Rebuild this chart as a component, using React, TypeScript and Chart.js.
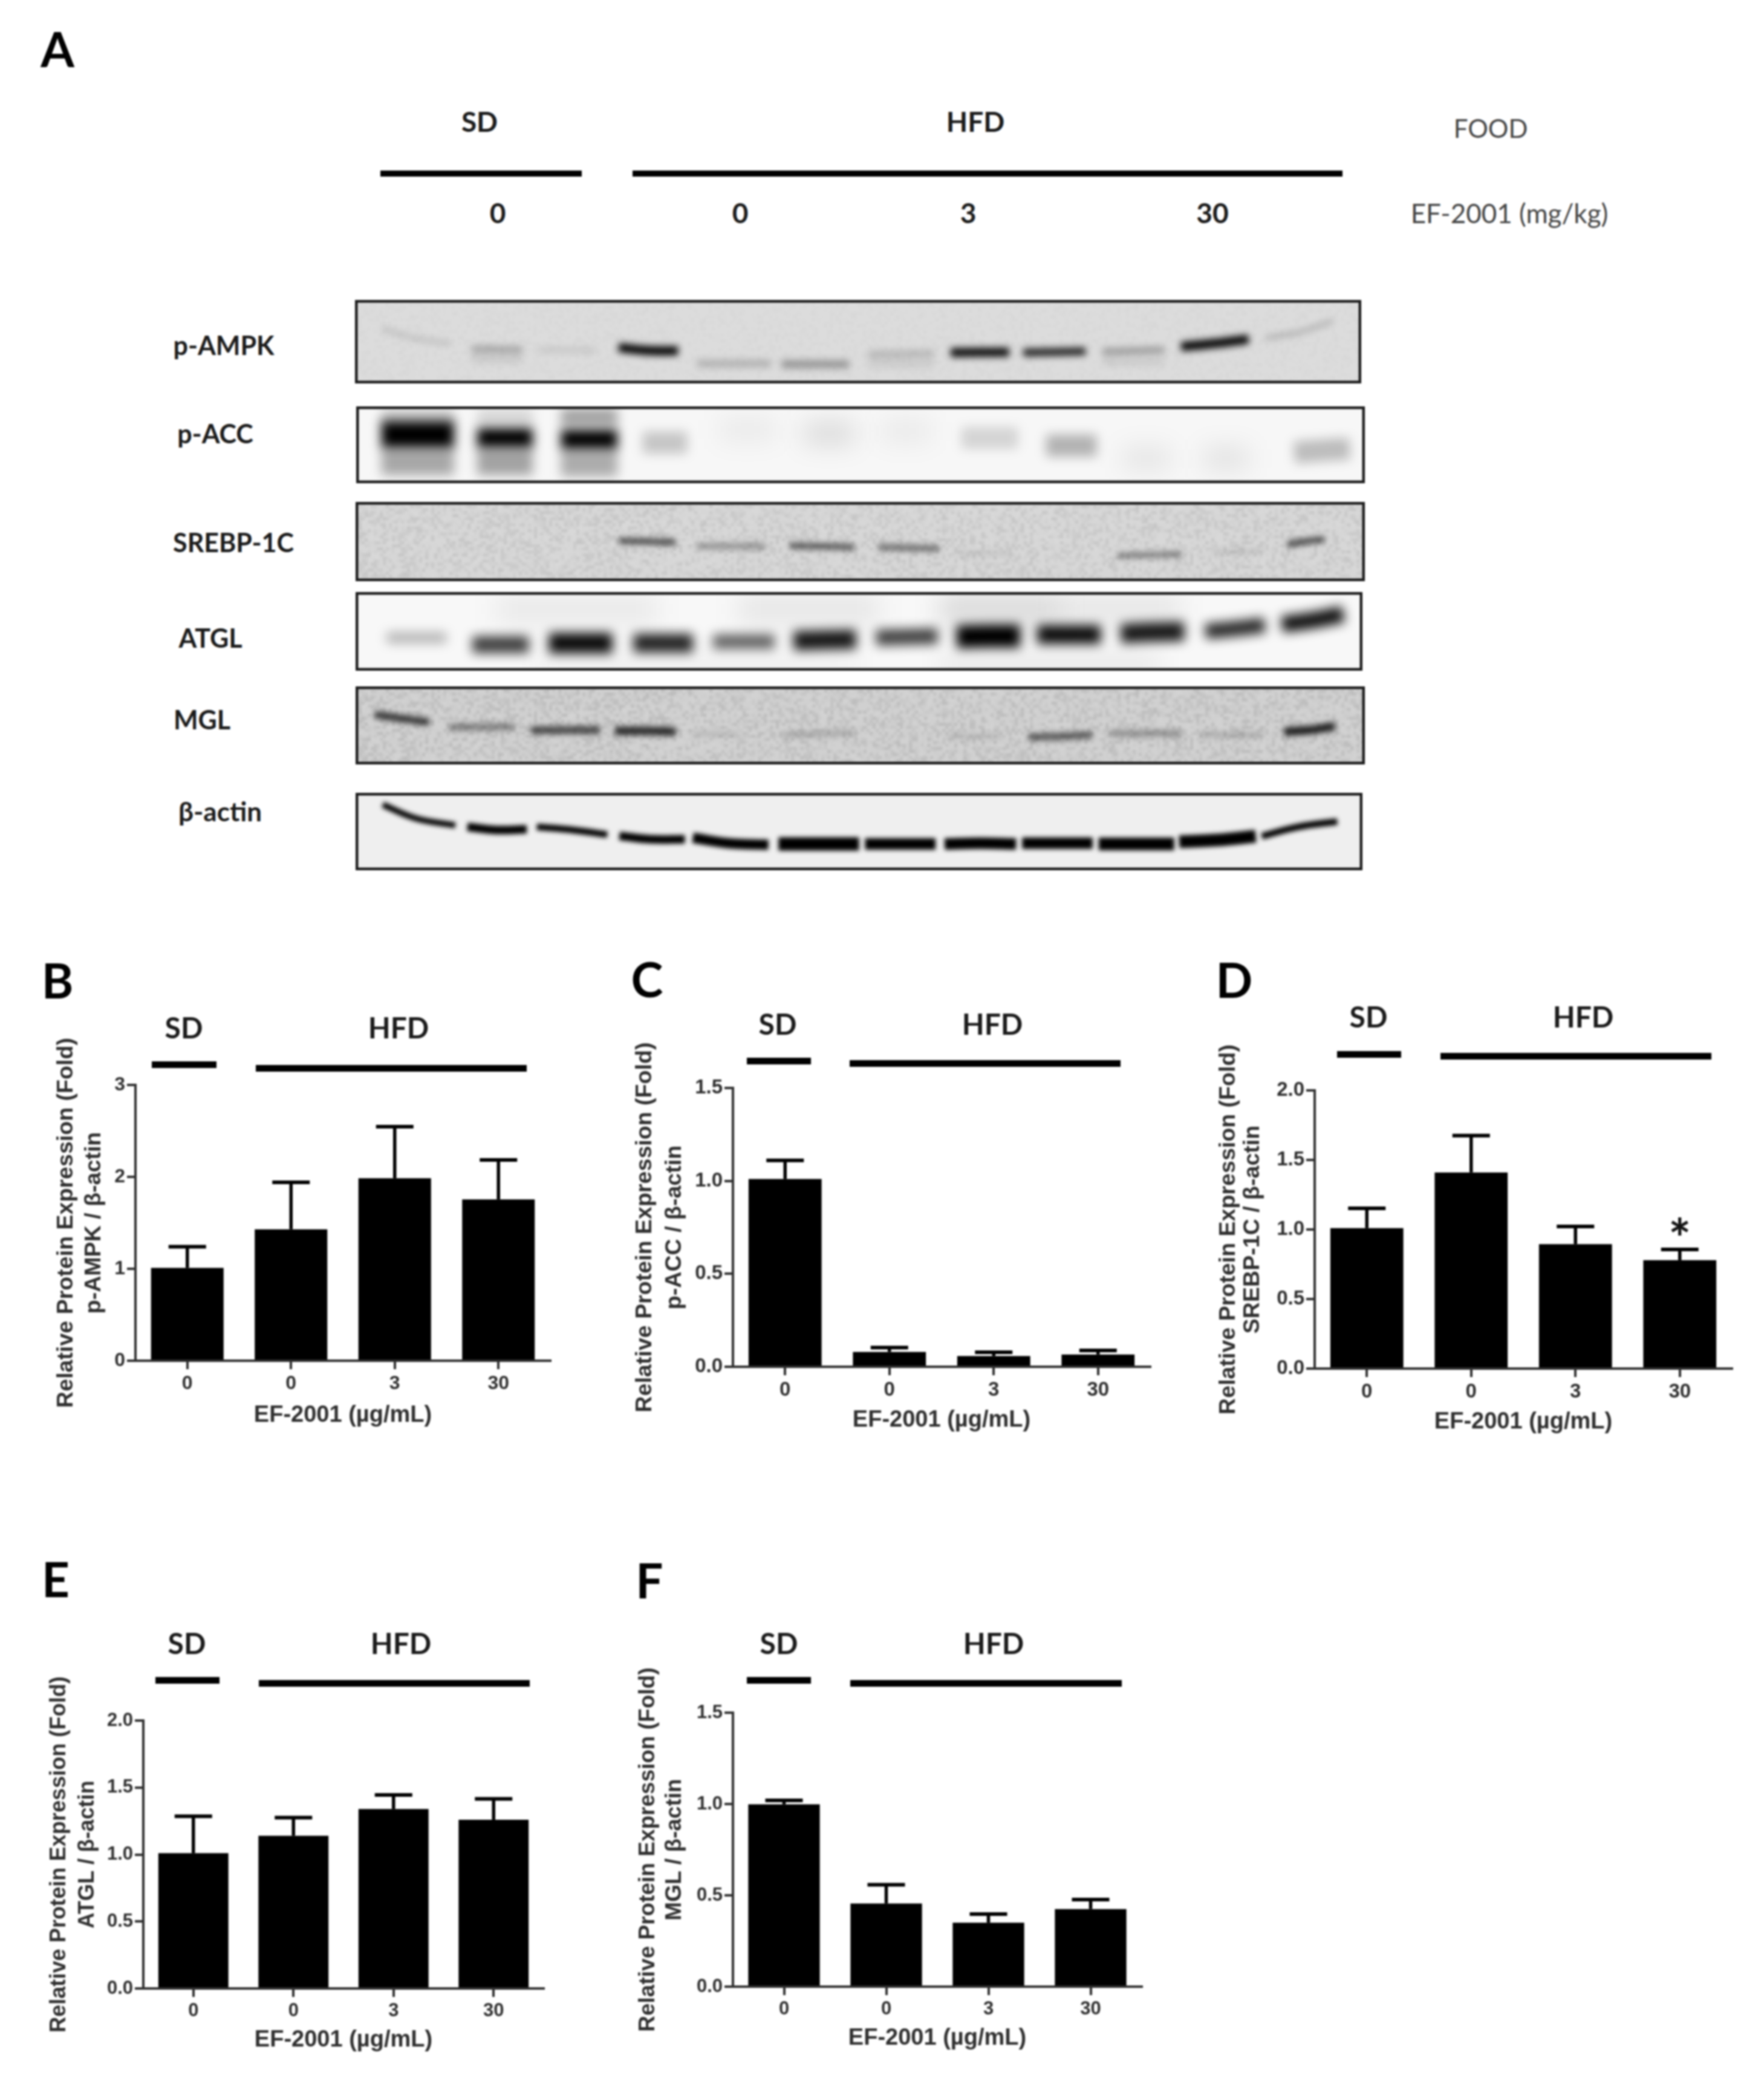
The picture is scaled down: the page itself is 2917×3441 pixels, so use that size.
import React, { useEffect, useRef } from "react";
import { Chart, registerables } from "chart.js";

Chart.register(...registerables);

// ---------- bar chart data ----------
const doseLabels = ["0", "0", "3", "30"];
const bMeans = [1.01, 1.43, 1.985, 1.755];
const bErrorTops = [1.24, 1.94, 2.546, 2.185];
const bTicks = ["0", "1", "2", "3"];
const cMeans = [1.01, 0.08, 0.058, 0.066];
const cErrorTops = [1.11, 0.103, 0.078, 0.088];
const cTicks = ["0.0", "0.5", "1.0", "1.5"];
const dMeans = [1.01, 1.41, 0.895, 0.779];
const dErrorTops = [1.152, 1.675, 1.022, 0.856];
const dTicks = ["0.0", "0.5", "1.0", "1.5", "2.0"];
const dMarks = ["", "", "", "*"];
const eMeans = [1.01, 1.14, 1.34, 1.26];
const eErrorTops = [1.285, 1.275, 1.445, 1.415];
const eTicks = ["0.0", "0.5", "1.0", "1.5", "2.0"];
const fMeans = [0.998, 0.455, 0.35, 0.425];
const fErrorTops = [1.02, 0.558, 0.397, 0.477];
const fTicks = ["0.0", "0.5", "1.0", "1.5"];

// ---------- blot band readings: [x,y] x3 in % of blot, darkness, band thickness ----------
type Band = [number, number, number, number, number, number, number, number];
const pAmpkBands: Band[] = [
  [2.7, 34.6, 6, 46, 9.4, 52, 0.2, 5],
  [11.6, 58.8, 14.1, 58.8, 16.6, 59.6, 0.25, 11],
  [11.6, 70, 14.1, 70, 16.6, 70, 0.08, 16],
  [18.3, 60, 21, 60, 23.9, 60, 0.1, 9],
  [26.2, 57, 29, 60.5, 32.1, 61, 1, 15],
  [34, 76, 37.5, 76, 41.3, 76, 0.2, 12],
  [42.4, 77, 46, 77, 49.1, 77, 0.32, 13],
  [51, 65, 54, 64.6, 57.5, 64, 0.18, 11],
  [51, 76, 54, 76, 57.5, 76, 0.07, 14],
  [59.2, 63, 62, 62.7, 65, 62.5, 0.95, 15],
  [66.4, 63, 69.5, 62.3, 72.6, 61.5, 0.85, 13],
  [74.3, 62, 77, 61, 80.4, 60, 0.3, 11],
  [74.3, 74, 77, 74, 80.4, 74, 0.07, 14],
  [82.1, 56, 85.5, 52, 88.8, 47, 1, 15],
  [90.5, 46, 94, 38, 97.2, 25, 0.25, 6],
];
const pAccBands: Band[] = [
  [2.5, 72, 6, 72, 9.7, 72, 0.32, 44],
  [12, 72, 14.7, 72, 17.5, 72, 0.34, 44],
  [20.3, 74, 23, 74, 25.9, 74, 0.3, 44],
  [2.5, 14, 6, 14, 9.7, 14, 0.2, 24],
  [12, 14, 14.7, 14, 17.5, 14, 0.14, 24],
  [20.3, 14, 23, 14, 25.9, 14, 0.35, 28],
  [2.5, 36.7, 6, 36.7, 9.7, 36.7, 1, 44],
  [12, 41, 14.7, 41, 17.5, 41, 1, 32],
  [20.3, 43, 23, 43, 25.9, 43, 1, 32],
  [28.4, 47, 30.6, 47, 32.8, 47, 0.2, 36],
  [36, 30, 39, 30, 41.6, 30, 0.06, 36],
  [44.4, 35, 47, 35, 49.4, 35, 0.12, 36],
  [52, 32, 54.5, 32, 57, 32, 0.06, 36],
  [60, 41, 63, 41, 65.6, 41, 0.14, 36],
  [68.4, 51, 71, 51, 73.4, 51, 0.28, 36],
  [76, 68, 78.5, 68, 80.7, 68, 0.08, 36],
  [84, 68, 86, 68, 88.5, 68, 0.09, 36],
  [93, 60, 96, 57, 98.5, 55, 0.24, 36],
];
const srebpBands: Band[] = [
  [26.1, 49, 29, 50, 31.7, 51, 0.6, 11],
  [33.8, 56, 37, 56, 40.6, 56, 0.32, 10],
  [43, 55, 46, 56, 49.4, 57, 0.55, 11],
  [51.8, 57, 55, 58, 57.8, 59, 0.45, 11],
  [59.5, 65, 62, 65, 65, 65, 0.08, 8],
  [75.5, 68, 78.5, 67, 81.8, 66, 0.38, 10],
  [84.8, 63, 87, 63, 89.8, 62, 0.1, 8],
  [92.3, 54, 94, 50, 96, 47, 0.6, 11],
];
const atglBands: Band[] = [
  [14, 22, 22, 22, 30, 22, 0.06, 50],
  [38, 22, 46, 22, 52, 22, 0.07, 50],
  [58, 22, 64, 22, 70, 22, 0.12, 50],
  [70, 22, 76, 22, 82, 22, 0.07, 50],
  [18, 90, 30, 90, 50, 90, 0.05, 24],
  [58, 92, 64, 92, 80, 92, 0.09, 24],
  [3.1, 58, 6, 58, 9, 58, 0.28, 18],
  [11.6, 67, 14.4, 67, 17.2, 67, 0.75, 28],
  [19.2, 65, 22.4, 65, 25.5, 65, 0.95, 34],
  [27.6, 65, 30.5, 65, 33.5, 65, 0.85, 31],
  [35.5, 63, 38.5, 63, 41.6, 63, 0.6, 24],
  [43.5, 62, 46.5, 61, 49.7, 60, 0.9, 32],
  [51.7, 58, 55, 57, 57.8, 56, 0.75, 26],
  [59.7, 57, 63, 56, 66, 56, 1, 38],
  [67.7, 54, 71, 54, 74, 54, 0.95, 31],
  [76, 53, 79, 51, 82.3, 50, 0.9, 32],
  [84.4, 50, 87, 47, 90.3, 42, 0.85, 25],
  [92, 41, 95, 36, 98.1, 28, 0.95, 27],
];
const mglBands: Band[] = [
  [1.9, 36, 4.5, 41, 7.3, 46, 0.75, 12],
  [9.3, 52, 12.5, 52, 15.7, 52, 0.4, 11],
  [17.4, 56, 21, 56, 24.2, 56, 0.65, 13],
  [25.7, 57, 28.7, 57, 31.7, 58, 0.8, 14],
  [33.4, 61, 35.7, 61, 38, 61, 0.12, 8],
  [42.3, 62, 46, 61, 49.4, 59, 0.2, 9],
  [58.7, 64, 61.5, 64, 64, 64, 0.12, 8],
  [66.7, 65, 70, 64, 73, 62, 0.6, 11],
  [74.7, 60, 78, 60, 81.8, 60, 0.3, 11],
  [83.7, 62, 87, 62, 89.8, 62, 0.2, 8],
  [92, 58, 94.5, 56, 97, 51, 0.85, 14],
];
const actinBands: Band[] = [
  [2.7, 15.3, 6, 33, 9.9, 42, 1, 10],
  [11.1, 44, 14, 48, 17, 47, 1, 14],
  [18, 44, 21.6, 48, 25, 54, 1, 11],
  [26.2, 55.6, 29.3, 60, 32.7, 60, 1, 14],
  [33.5, 58, 37, 65, 41, 67, 1, 17],
  [42, 66, 46, 66, 50, 66, 1, 22],
  [50.6, 66, 54, 66, 57.6, 66, 1, 19],
  [58.5, 66, 62, 65, 65.6, 66, 1, 19],
  [66.2, 65, 69.7, 65, 73.2, 65, 1, 19],
  [73.8, 66, 77.5, 66, 81.3, 66, 1, 21],
  [81.8, 63, 85.6, 61, 89.4, 56, 1, 21],
  [90, 56, 93.6, 44, 97.5, 37, 1, 11],
];

// ---------- layout ----------
const SANS = "'Liberation Sans', Arial, sans-serif";
const HEAD = "Lato, 'Open Sans', sans-serif";
const INK = "#2e2e2e";

type BarPanel = {
  area: [number, number, number, number];
  means: number[];
  tops: number[];
  ticks: string[];
  max: number;
  title: string;
  titleSize: number;
  titleX: [number, number];
  xTitleOffset: number;
  tickSize: number;
  marks?: string[];
};

const barPanels: BarPanel[] = [
  { area: [224, 910, 1794, 2250], means: bMeans, tops: bErrorTops, ticks: bTicks, max: 3, title: "p-AMPK / β-actin", titleSize: 37.6, titleX: [110, 156], xTitleOffset: 90, tickSize: 32 },
  { area: [1212, 1902, 1799, 2260], means: cMeans, tops: cErrorTops, ticks: cTicks, max: 1.5, title: "p-ACC / β-actin", titleSize: 37.6, titleX: [1067, 1116], xTitleOffset: 88, tickSize: 33 },
  { area: [2174, 2864, 1803, 2263], means: dMeans, tops: dErrorTops, ticks: dTicks, max: 2, title: "SREBP-1C / β-actin", titleSize: 37.6, titleX: [2032, 2072], xTitleOffset: 88, tickSize: 33, marks: dMarks },
  { area: [237, 899, 2845, 3288], means: eMeans, tops: eErrorTops, ticks: eTicks, max: 2, title: "ATGL / β-actin", titleSize: 36.2, titleX: [98, 145], xTitleOffset: 85, tickSize: 31 },
  { area: [1212, 1888, 2832, 3285], means: fMeans, tops: fErrorTops, ticks: fTicks, max: 1.5, title: "MGL / β-actin", titleSize: 37, titleX: [1072, 1116], xTitleOffset: 85, tickSize: 31 },
];

type Blot = { frame: [number, number, number, number]; bands: Band[]; bg: string; soft: number; grain: number };
const blots: Blot[] = [
  { frame: [587, 2251, 496, 634], bands: pAmpkBands, bg: "#dcdcdc", soft: 6, grain: 5 },
  { frame: [589, 2257, 672, 799], bands: pAccBands, bg: "#f7f7f7", soft: 9, grain: 0 },
  { frame: [588, 2257, 830, 961], bands: srebpBands, bg: "#d6d6d6", soft: 5, grain: 20 },
  { frame: [588, 2253, 979, 1109], bands: atglBands, bg: "#f8f8f8", soft: 9, grain: 0 },
  { frame: [588, 2257, 1135, 1264], bands: mglBands, bg: "#cfcfcf", soft: 5, grain: 24 },
  { frame: [588, 2253, 1311, 1439], bands: actinBands, bg: "#efefef", soft: 3.5, grain: 0 },
];

type Label = [string, number, number, number, number, string];
const labels: Label[] = [
  ["A", 95, 80, 80, 700, "#000"],
  ["B", 95, 1620, 80, 700, "#000"],
  ["C", 1070, 1618, 80, 700, "#000"],
  ["D", 2041, 1619, 80, 700, "#000"],
  ["E", 92, 2610, 80, 700, "#000"],
  ["F", 1074, 2612, 80, 700, "#000"],
  ["SD", 793, 201, 46, 700, "#1a1a1a"],
  ["HFD", 1613, 201, 46, 700, "#1a1a1a"],
  ["FOOD", 2465, 212, 42, 400, "#444"],
  ["0", 823, 352, 46, 700, "#1a1a1a"],
  ["0", 1224, 352, 46, 700, "#1a1a1a"],
  ["3", 1601, 352, 46, 700, "#1a1a1a"],
  ["30", 2005, 352, 46, 700, "#1a1a1a"],
  ["EF-2001 (mg/kg)", 2496, 352, 44, 400, "#444"],
  ["p-AMPK", 370, 570, 43, 700, "#1a1a1a"],
  ["p-ACC", 356, 716, 43, 700, "#1a1a1a"],
  ["SREBP-1C", 386, 896, 43, 700, "#1a1a1a"],
  ["ATGL", 348, 1054, 43, 700, "#1a1a1a"],
  ["MGL", 334, 1189, 43, 700, "#1a1a1a"],
  ["β-actin", 364, 1341, 44, 700, "#1a1a1a"],
  ["SD", 304, 1699, 48, 700, "#1a1a1a"],
  ["HFD", 659, 1699, 48, 700, "#1a1a1a"],
  ["SD", 1286, 1693, 48, 700, "#1a1a1a"],
  ["HFD", 1641, 1693, 48, 700, "#1a1a1a"],
  ["SD", 2263, 1681, 48, 700, "#1a1a1a"],
  ["HFD", 2618, 1681, 48, 700, "#1a1a1a"],
  ["SD", 309, 2717, 48, 700, "#1a1a1a"],
  ["HFD", 663, 2717, 48, 700, "#1a1a1a"],
  ["SD", 1288, 2717, 48, 700, "#1a1a1a"],
  ["HFD", 1643, 2717, 48, 700, "#1a1a1a"],
];

// [left, right, centre y, thickness]
const rules: [number, number, number, number][] = [
  [629, 962, 287, 10],
  [1046, 2220, 287, 10],
  [251, 358, 1760, 11],
  [423, 871, 1766, 11],
  [1235, 1341, 1754, 11],
  [1405, 1853, 1758, 11],
  [2211, 2317, 1743, 11],
  [2382, 2830, 1746, 11],
  [257, 363, 2778, 11],
  [428, 876, 2783, 11],
  [1235, 1341, 2778, 11],
  [1406, 1855, 2783, 11],
];

// ---------- bar chart component ----------
function BarChart({ panel }: { panel: BarPanel }) {
  const ref = useRef<HTMLCanvasElement>(null);
  const [l, r, t, b] = panel.area;
  const leftRoom = l - (panel.titleX[0] - 40);
  const W = r - l + leftRoom + 12;
  const topRoom = 130;
  const bottomRoom = 130;
  const H = b - t + topRoom + bottomRoom;
  useEffect(() => {
    const lineGap = panel.titleX[1] - panel.titleX[0];
    const overlay = {
      id: "errorBars",
      afterDatasetsDraw(chart: any) {
        const ctx = chart.ctx;
        const y = chart.scales.y;
        const bars = chart.getDatasetMeta(0).data;
        ctx.save();
        ctx.strokeStyle = "#000";
        panel.tops.forEach((top, i) => {
          const cx = bars[i].x;
          const py = y.getPixelForValue(top);
          ctx.lineWidth = 5.5;
          ctx.beginPath();
          ctx.moveTo(cx, y.getPixelForValue(panel.means[i]));
          ctx.lineTo(cx, py);
          ctx.stroke();
          ctx.lineWidth = 6;
          ctx.beginPath();
          ctx.moveTo(cx - 31, py);
          ctx.lineTo(cx + 31, py);
          ctx.stroke();
          const mark = panel.marks && panel.marks[i];
          if (mark) {
            ctx.fillStyle = "#111";
            ctx.font = `700 88px ${HEAD}`;
            ctx.textAlign = "center";
            ctx.textBaseline = "middle";
            ctx.fillText(mark, cx, y.getPixelForValue(top + 0.062));
          }
        });
        ctx.restore();
      },
    };
    const chart = new Chart(ref.current as HTMLCanvasElement, {
      type: "bar",
      data: {
        labels: doseLabels,
        datasets: [
          {
            data: panel.means,
            backgroundColor: "#000",
            borderWidth: 0,
            barPercentage: 0.7,
            categoryPercentage: 1,
          },
        ],
      },
      plugins: [overlay],
      options: {
        animation: false,
        responsive: false,
        devicePixelRatio: 1,
        layout: { padding: { left: 0, right: 12, top: topRoom, bottom: 0 } },
        plugins: { legend: { display: false }, tooltip: { enabled: false } },
        scales: {
          x: {
            afterFit: (s: any) => {
              s.height = bottomRoom;
            },
            border: { color: INK, width: 4 },
            grid: { offset: false, drawOnChartArea: false, color: INK, lineWidth: 4, tickLength: 14 },
            ticks: { color: INK, padding: 5, maxRotation: 0, font: { family: SANS, size: panel.tickSize, weight: "bold" } },
            title: {
              display: true,
              text: "EF-2001 (µg/mL)",
              color: INK,
              font: { family: SANS, size: 38, weight: "bold", lineHeight: 1.1 },
              padding: { top: 0, bottom: bottomRoom - panel.xTitleOffset - 21 },
            },
          },
          y: {
            min: 0,
            max: panel.max,
            afterFit: (s: any) => {
              s.width = leftRoom;
            },
            afterBuildTicks: (s: any) => {
              const n = panel.ticks.length - 1;
              s.ticks = panel.ticks.map((_, i) => ({ value: (panel.max * i) / n }));
            },
            border: { color: INK, width: 4 },
            grid: { drawOnChartArea: false, color: INK, lineWidth: 4, tickLength: 14 },
            ticks: {
              color: INK,
              padding: 3,
              callback: (_v: any, i: number) => panel.ticks[i],
              font: { family: SANS, size: panel.tickSize, weight: "bold" },
            },
            title: {
              display: true,
              text: ["Relative Protein Expression (Fold)", panel.title],
              color: INK,
              font: { family: SANS, size: panel.titleSize, weight: "bold", lineHeight: lineGap / panel.titleSize },
              padding: { top: 40 - lineGap / 2, bottom: 0 },
            },
          },
        },
      } as any,
    });
    return () => chart.destroy();
  }, []);
  return (
    <canvas
      ref={ref}
      width={W}
      height={H}
      style={{ position: "absolute", left: l - leftRoom, top: t - topRoom, width: W, height: H }}
    />
  );
}

// ---------- blot component ----------
function BlotChart({ blot }: { blot: Blot }) {
  const ref = useRef<HTMLCanvasElement>(null);
  const [l, r, t, b] = blot.frame;
  const W = r - l;
  const H = b - t;
  useEffect(() => {
    const film = {
      id: "film",
      beforeDatasetsDraw(chart: any) {
        const ctx = chart.ctx;
        ctx.save();
        ctx.fillStyle = blot.bg;
        ctx.fillRect(0, 0, W, H);
        if (blot.grain > 0) {
          // fixed film-grain mottling of the background (not chart data)
          const cell = 5;
          const cols = Math.ceil(W / cell);
          const rows = Math.ceil(H / cell);
          const tile = document.createElement("canvas");
          tile.width = cols;
          tile.height = rows;
          const tctx = tile.getContext("2d") as CanvasRenderingContext2D;
          for (let j = 0; j < rows; j++) {
            for (let i = 0; i < cols; i++) {
              const h = Math.abs(Math.sin(i * 12.9898 + j * 78.233) * 43758.5453) % 1;
              const a = (h - 0.5) * 2 * (blot.grain / 255);
              tctx.fillStyle = a > 0 ? `rgba(255,255,255,${a})` : `rgba(0,0,0,${-a})`;
              tctx.fillRect(i, j, 1, 1);
            }
          }
          ctx.imageSmoothingEnabled = true;
          ctx.drawImage(tile, 0, 0, cols * cell, rows * cell);
        }
        ctx.restore();
      },
      beforeDatasetDraw(chart: any, args: any) {
        const band = blot.bands[args.index];
        const extra = band[6] < 0.13 && band[7] > 20 ? 12 : 0;
        chart.ctx.save();
        chart.ctx.filter = `blur(${blot.soft + extra}px)`;
      },
      afterDatasetDraw(chart: any) {
        chart.ctx.restore();
      },
      afterDatasetsDraw(chart: any) {
        const ctx = chart.ctx;
        ctx.save();
        ctx.strokeStyle = "#1c1c1c";
        ctx.lineWidth = 5;
        ctx.strokeRect(2, 2, W - 4, H - 4);
        ctx.restore();
      },
    };
    const chart = new Chart(ref.current as HTMLCanvasElement, {
      type: "line",
      data: {
        datasets: blot.bands.map((band) => ({
          data: [
            { x: band[0], y: band[1] },
            { x: band[2], y: band[3] },
            { x: band[4], y: band[5] },
          ],
          borderColor: `rgba(0,0,0,${band[6]})`,
          borderWidth: band[7],
          tension: 0.4,
          pointRadius: 0,
          borderCapStyle: "butt",
        })),
      },
      plugins: [film],
      options: {
        animation: false,
        responsive: false,
        devicePixelRatio: 1,
        layout: { padding: 0 },
        plugins: { legend: { display: false }, tooltip: { enabled: false } },
        scales: {
          x: { type: "linear", min: 0, max: 100, display: false },
          y: { type: "linear", min: 0, max: 100, reverse: true, display: false },
        },
      } as any,
    });
    return () => chart.destroy();
  }, []);
  return (
    <canvas
      ref={ref}
      width={W}
      height={H}
      style={{ position: "absolute", left: l, top: t, width: W, height: H }}
    />
  );
}

export default function App() {
  return (
    <div
      style={{
        position: "absolute",
        left: 0,
        top: 0,
        width: 2917,
        height: 3441,
        overflow: "hidden",
        background: "#fff",
        filter: "blur(1.5px)",
      }}
    >
      {blots.map((blot, i) => (
        <BlotChart key={i} blot={blot} />
      ))}
      {barPanels.map((panel, i) => (
        <BarChart key={i} panel={panel} />
      ))}
      {rules.map(([a, c, y, th], i) => (
        <div key={i} style={{ position: "absolute", left: a, top: y - th / 2, width: c - a, height: th, background: "#000" }} />
      ))}
      {labels.map(([text, x, y, size, weight, color], i) => (
        <div
          key={i}
          style={{
            position: "absolute",
            left: x,
            top: y,
            transform: "translate(-50%, -50%)",
            font: `${weight} ${size}px ${HEAD}`,
            color,
            whiteSpace: "nowrap",
            lineHeight: 1,
          }}
        >
          {text}
        </div>
      ))}
    </div>
  );
}
